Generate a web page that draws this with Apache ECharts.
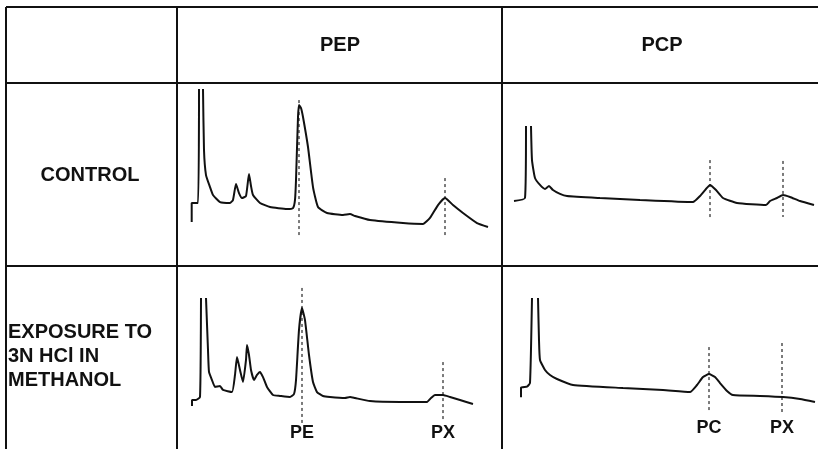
<!DOCTYPE html>
<html>
<head>
<meta charset="utf-8">
<title>PEP / PCP chromatograms</title>
<script src="https://cdn.jsdelivr.net/npm/echarts@6/dist/echarts.min.js"></script>
<style>
  html, body { margin: 0; padding: 0; background: #fff; }
  #chart { width: 818px; height: 449px; }
</style>
</head>
<body>
<div id="chart"></div>
<script>
// Column and row headings
const columnTitles = ['PEP', 'PCP'];
const rowTitles = ['CONTROL', 'EXPOSURE TO\n3N HCl IN\nMETHANOL'];

// Detector traces: [retention time (min), response]; null breaks the pen at off-scale peaks
const pepControl = [
  [1.17, 28], [1.17, 40.7], [1.8, 40.7], [1.9, 116.7], null,
  [2.3, 116.7], [2.4, 76], [2.6, 59.3], [3.0, 51.3], [3.3, 46], [4.0, 41.3],
  [5.0, 40.7], [5.3, 42.7], [5.6, 53.3], [5.9, 47.3], [6.2, 44], [6.6, 45.3],
  [6.9, 60], [7.1, 52], [7.3, 46], [8.0, 40.7], [9.0, 38], [10.7, 36.7],
  [11.3, 37.3], [11.5, 42.7], [11.6, 56], [11.8, 98], [11.9, 106], [12.1, 104],
  [12.3, 98], [12.8, 78], [13.3, 51.3], [13.8, 38], [14.7, 34], [16.3, 32.7],
  [17.0, 33.3], [17.5, 32], [19.0, 29.3], [22.3, 27.3], [24.3, 26.7],
  [25.0, 30.7], [25.8, 39.3], [26.5, 44], [27.3, 39.3], [28.3, 34],
  [29.7, 27.3], [30.8, 24.7]
];
const pcpControl = [
  [0.9, 42], [2.0, 44], [2.1, 92], null,
  [2.6, 92], [2.7, 69.3], [3.0, 57.3], [3.5, 52.7], [4.0, 50], [4.4, 52],
  [4.8, 49.3], [5.5, 46.7], [6.2, 45.3], [9.5, 44], [13.5, 42.7], [18.8, 41.3],
  [19.5, 45.3], [20.1, 50], [20.5, 52.7], [21.1, 49.3], [21.8, 44],
  [23.2, 40.7], [26.1, 39.3], [26.5, 42], [27.2, 44], [27.8, 46],
  [28.5, 44.7], [29.5, 42], [30.9, 39.3]
];
const pepHcl = [
  [1.2, 28], [1.2, 32], [1.6, 32], [2.0, 34], [2.1, 100], null,
  [2.6, 100], [2.8, 65.3], [2.9, 50.7], [3.2, 45.3], [3.5, 40.7], [4.0, 41.3],
  [4.3, 38.7], [5.2, 37.3], [5.5, 48.7], [5.7, 60.7], [6.0, 52], [6.3, 44],
  [6.6, 58.7], [6.7, 68.7], [6.9, 62], [7.1, 52], [7.4, 45.3], [7.7, 48.7],
  [8.0, 50.7], [8.3, 47.3], [8.7, 40.7], [9.3, 35.3], [10.0, 34.7], [11.0, 34],
  [11.4, 36], [11.6, 45.3], [11.9, 78.7], [12.2, 93.3], [12.5, 85.3],
  [12.9, 62], [13.3, 44], [13.7, 37.3], [14.3, 34.7], [15.0, 34], [16.5, 33.3],
  [17.0, 34], [17.5, 33.3], [19.0, 31.3], [22.0, 30.7], [24.7, 30.7],
  [25.1, 33.3], [25.5, 35.3], [26.3, 35.3], [27.0, 34], [28.0, 32], [29.3, 29.3]
];
const pcpHcl = [
  [1.6, 33.8], [1.6, 40.2], [2.2, 40.9], [2.5, 43.3], [2.7, 100], null,
  [3.3, 100], [3.4, 72], [3.5, 58.7], [4.0, 52], [4.5, 48.7], [5.2, 46],
  [6.8, 42], [11.8, 40], [15.8, 38.7], [18.5, 37.3], [19.2, 42], [19.8, 47.3],
  [20.4, 49.3], [21.0, 47.3], [21.5, 43.3], [22.2, 38], [22.8, 35.3],
  [25.5, 34.7], [27.8, 34], [29.5, 32.7], [31.0, 30.7]
];

// Retention markers: [time, top of dashed line, bottom of dashed line]
const pepControlMarks = [[11.9, 109.3, 17.3], [26.5, 57.3, 17.3]];
const pcpControlMarks = [[20.5, 69.3, 31.3], [27.8, 68.7, 31.3]];
const pepHclMarks = [[12.2, 106.7, 16.7], [26.3, 57.3, 18.7]];
const pcpHclMarks = [[20.4, 67.3, 24], [27.7, 70, 22]];
const pepMarkNames = ['PE', 'PX'];
const pcpMarkNames = ['PC', 'PX'];

const FONT = '"Liberation Sans", Arial, Helvetica, sans-serif';
const INK = '#111';
const Y_MAX = 120;

// labelY: vertical centre (px) of the peak-name row under a panel
const panels = [
  { trace: pepControl, marks: pepControlMarks, names: null,         grid: { left: 180, top: 84,  width: 320, height: 180 }, xMax: 32 },
  { trace: pcpControl, marks: pcpControlMarks, names: null,         grid: { left: 505, top: 84,  width: 313, height: 180 }, xMax: 31.3 },
  { trace: pepHcl,     marks: pepHclMarks,     names: pepMarkNames, grid: { left: 180, top: 268, width: 320, height: 180 }, xMax: 32, labelY: 433 },
  { trace: pcpHcl,     marks: pcpHclMarks,     names: pcpMarkNames, grid: { left: 505, top: 268, width: 313, height: 180 }, xMax: 31.3, labelY: 428 }
];

const grids = [], xAxes = [], yAxes = [], series = [];
panels.forEach((p, i) => {
  grids.push(Object.assign({ containLabel: false }, p.grid));
  xAxes.push({ type: 'value', gridIndex: i, min: 0, max: p.xMax, show: false });
  yAxes.push({ type: 'value', gridIndex: i, min: 0, max: Y_MAX, show: false });
  series.push({
    type: 'line', xAxisIndex: i, yAxisIndex: i,
    data: p.trace, showSymbol: false, connectNulls: false, smooth: 0.15,
    lineStyle: { color: INK, width: 2 }, silent: true
  });
  p.marks.forEach((m, k) => {
    // dashed retention line; the lower end carries the peak name
    const lower = { value: [m[0], m[2]] };
    if (p.names) {
      const endPx = p.grid.top + p.grid.height * (1 - m[2] / Y_MAX);
      lower.label = {
        show: true, position: 'inside', offset: [0, p.labelY - endPx],
        formatter: p.names[k],
        fontFamily: FONT, fontWeight: 'bold', fontSize: 18, color: INK
      };
    }
    series.push({
      type: 'line', xAxisIndex: i, yAxisIndex: i,
      data: [{ value: [m[0], m[1]] }, lower],
      symbol: 'circle', symbolSize: 1, showSymbol: true,
      itemStyle: { color: 'rgba(0,0,0,0)' },
      lineStyle: { color: INK, width: 1.1, type: [3, 3] },
      label: { show: false }, silent: true, clip: false
    });
  });
});

// Table rules
const rule = (x1, y1, x2, y2) => ({
  type: 'line', silent: true,
  shape: { x1, y1, x2, y2 },
  style: { stroke: INK, lineWidth: 2 }
});
const headingText = (x, y, text, align) => ({
  type: 'text', silent: true, x, y,
  style: {
    text, fill: INK, font: 'bold 20px ' + FONT,
    align: align || 'center', verticalAlign: 'middle', lineHeight: 24
  }
});

const graphics = [
  rule(6, 7, 818, 7),
  rule(6, 83, 818, 83),
  rule(6, 266, 818, 266),
  rule(6, 7, 6, 449),
  rule(177, 7, 177, 449),
  rule(502, 7, 502, 449),
  headingText(340, 45, columnTitles[0]),
  headingText(662, 45, columnTitles[1]),
  headingText(90, 175, rowTitles[0]),
  headingText(8, 356, rowTitles[1], 'left')
];

const chart = echarts.init(document.getElementById('chart'), null, { renderer: 'canvas' });
chart.setOption({
  animation: false,
  backgroundColor: '#fff',
  grid: grids,
  xAxis: xAxes,
  yAxis: yAxes,
  series: series,
  graphic: graphics
});
</script>
</body>
</html>
